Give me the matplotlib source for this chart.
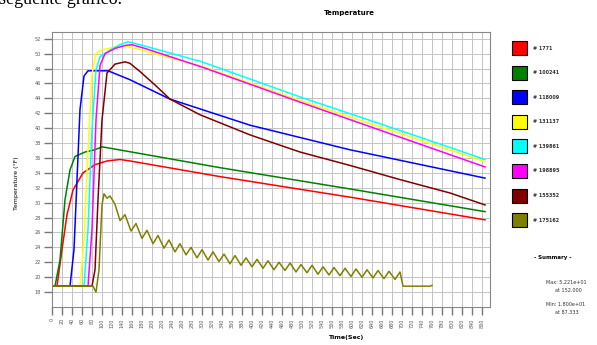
import numpy as np
import matplotlib
matplotlib.use('Agg')
import matplotlib.pyplot as plt
from matplotlib.patches import Rectangle

# series (time in s, temperature)
red_t = [0, 10, 20, 30, 42, 62, 86, 110, 136, 156, 336, 600, 866]
red_v = [18.8, 18.8, 23.7, 28.4, 31.7, 34.0, 35.1, 35.6, 35.8, 35.6, 33.5, 30.7, 27.7]

green_t = [0, 6, 16, 26, 36, 46, 66, 86, 100, 336, 600, 866]
green_v = [18.8, 18.8, 22.3, 30.4, 34.4, 36.2, 36.8, 37.1, 37.5, 34.7, 31.8, 28.8]

blue_t = [0, 36, 44, 50, 56, 64, 72, 96, 112, 156, 236, 396, 596, 866]
blue_v = [18.8, 18.8, 23.7, 33.1, 42.5, 47.0, 47.7, 47.7, 47.7, 46.5, 43.9, 40.4, 37.1, 33.3]

yellow_t = [0, 56, 64, 72, 80, 88, 100, 120, 140, 156, 300, 496, 700, 866]
yellow_v = [18.8, 18.8, 25.0, 37.1, 47.2, 50.0, 50.5, 50.8, 51.1, 50.9, 48.3, 43.7, 39.2, 35.5]

cyan_t = [0, 64, 72, 80, 88, 96, 116, 136, 152, 176, 300, 496, 700, 866]
cyan_v = [18.8, 18.8, 26.4, 39.8, 47.8, 49.6, 50.5, 51.2, 51.6, 51.2, 48.9, 44.2, 39.6, 35.8]

magenta_t = [0, 72, 80, 88, 96, 106, 126, 146, 160, 186, 300, 496, 700, 866]
magenta_v = [18.8, 18.8, 26.4, 41.1, 48.4, 50.0, 50.7, 51.1, 51.2, 50.7, 48.2, 43.5, 38.7, 34.8]

brown_t = [0, 80, 86, 92, 100, 110, 126, 146, 156, 176, 206, 236, 296, 396, 496, 596, 696, 796, 866]
brown_v = [18.8, 18.8, 21.0, 30.4, 41.1, 47.4, 48.6, 48.9, 48.7, 47.6, 45.8, 43.9, 41.8, 39.1,
           36.8, 35.0, 33.1, 31.3, 29.7]

olive_t = [0, 82, 88, 94, 100, 104, 110, 116, 126, 136, 146, 158, 168, 180, 190, 202, 212, 224,
           234, 246, 256, 268, 278, 290, 300, 312, 322, 334, 344, 356, 366, 378, 388, 400, 410,
           422, 432, 444, 454, 466, 476, 488, 498, 510, 520, 532, 542, 554, 564, 576, 586, 598,
           608, 620, 630, 642, 652, 664, 674, 686, 696, 702, 756, 760]
olive_v = [18.8, 18.8, 18.0, 21.0, 29.7, 31.2, 30.6, 30.9, 29.8, 27.6, 28.4, 26.2, 27.2, 25.2,
           26.3, 24.5, 25.6, 23.9, 25.0, 23.4, 24.5, 23.0, 24.0, 22.6, 23.7, 22.3, 23.4, 22.1,
           23.1, 21.8, 22.9, 21.6, 22.6, 21.4, 22.4, 21.2, 22.2, 21.0, 22.0, 20.9, 21.9, 20.7,
           21.7, 20.6, 21.6, 20.4, 21.4, 20.3, 21.3, 20.2, 21.2, 20.1, 21.1, 20.0, 21.0, 19.9,
           20.9, 19.8, 20.8, 19.7, 20.7, 18.8, 18.8, 18.9]

names = ['# 1771', '# 100241', '# 118009', '# 131137', '# 139861', '# 198895', '# 155352', '# 175162']
colors = ['#ff0000', '#008000', '#0000ff', '#ffff00', '#00ffff', '#ff00ff', '#800000', '#808000']
series = [(red_t, red_v), (green_t, green_v), (blue_t, blue_v), (yellow_t, yellow_v),
          (cyan_t, cyan_v), (magenta_t, magenta_v), (brown_t, brown_v), (olive_t, olive_v)]

x_ticks = np.arange(0, 880, 20)
y_ticks = np.arange(18, 54, 2)

fig = plt.figure(figsize=(5.97, 3.45), dpi=100)
ax = fig.add_axes([0.0871, 0.1101, 0.7337, 0.797])

for (t, v), c in zip(series, colors):
    ax.plot(t, v, color=c, lw=1.1)

ax.set_xlim(0, 876)
ax.set_ylim(16, 52.9)
ax.set_xticks(x_ticks)
ax.set_yticks(y_ticks)
ax.set_xticklabels([str(x) for x in x_ticks], rotation=90, fontsize=3.5, color='#555555')
ax.set_yticklabels([str(y) for y in y_ticks], fontsize=3.5, color='#555555')
ax.tick_params(length=6, width=1, color='#777777', pad=2)
ax.grid(True, color='#c4c4c4', lw=0.7)
ax.set_axisbelow(True)
for s in ax.spines.values():
    s.set_color('#888888')

ax.set_xlabel('Time(Sec)', fontsize=4.5, fontweight='bold')
ax.xaxis.set_label_coords(0.67, -0.1)
ax.set_ylabel('Temperature (°F)', fontsize=4.5)
ax.yaxis.set_label_coords(-0.075, 0.45)
ax.set_title('Temperature', fontsize=5, fontweight='bold', x=0.68, pad=12)

# scrap of document text above the chart, cut by the top edge as in the screenshot
fig.text(-0.002, 1 - 4 / 345, 'seguente gráfico.', fontsize=13, family='Liberation Serif', va='baseline')

# legend boxes on the right
for i, (n, c) in enumerate(zip(names, colors)):
    yc = 1 - (48 + i * 24.6) / 345
    fig.patches.append(Rectangle((512 / 597, yc - 7 / 345), 15 / 597, 14 / 345, facecolor=c,
                                 edgecolor='black', lw=0.8, transform=fig.transFigure))
    fig.text(533 / 597, yc, n, fontsize=3.5, fontweight='bold', va='center', color='#333333')

fig.text(553 / 597, 1 - 258 / 345, '- Summary -', fontsize=4, fontweight='bold', ha='center', va='center')
fig.text(546 / 597, 1 - 283 / 345, 'Max: 5.221e+01', fontsize=3.5, va='center', color='#333333')
fig.text(555 / 597, 1 - 291 / 345, 'at 152.000', fontsize=3.5, va='center', color='#333333')
fig.text(546 / 597, 1 - 305 / 345, 'Min: 1.800e+01', fontsize=3.5, va='center', color='#333333')
fig.text(555 / 597, 1 - 313 / 345, 'at 87.333', fontsize=3.5, va='center', color='#333333')

fig.savefig('out.png', dpi=100)
